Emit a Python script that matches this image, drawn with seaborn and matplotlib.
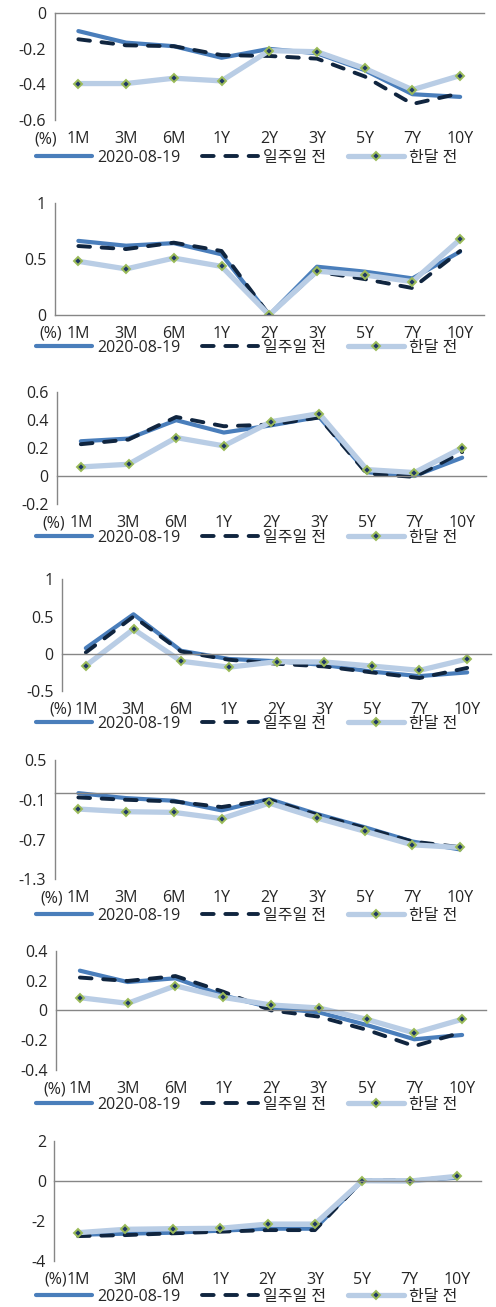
import numpy as np
import pandas as pd
import matplotlib
matplotlib.use("Agg")
import matplotlib.pyplot as plt
import seaborn as sns

sns.set_style("white")
plt.rcParams['font.family'] = ['Open Sans', 'Noto Sans CJK KR', 'DejaVu Sans']
plt.rcParams['axes.unicode_minus'] = False

categories = ["1M", "3M", "6M", "1Y", "2Y", "3Y", "5Y", "7Y", "10Y"]
series_names = ["2020-08-19", "일주일 전", "한달 전"]

p1_now = [-0.10, -0.165, -0.185, -0.25, -0.20, -0.225, -0.32, -0.455, -0.47]
p1_week = [-0.146, -0.18, -0.185, -0.235, -0.24, -0.255, -0.355, -0.51, -0.45]
p1_month = [-0.395, -0.395, -0.365, -0.38, -0.21, -0.216, -0.31, -0.43, -0.35]

p2_now = [0.66, 0.617, 0.64, 0.54, 0.0, 0.43, 0.386, 0.326, 0.564]
p2_week = [0.614, 0.587, 0.644, 0.57, 0.0, 0.386, 0.32, 0.24, 0.57]
p2_month = [0.478, 0.41, 0.507, 0.433, 0.0, 0.39, 0.356, 0.297, 0.674]

p3_now = [0.247, 0.266, 0.397, 0.309, 0.361, 0.42, 0.026, 0.0, 0.13]
p3_week = [0.226, 0.259, 0.42, 0.354, 0.366, 0.416, 0.017, -0.007, 0.17]
p3_month = [0.064, 0.083, 0.273, 0.214, 0.387, 0.444, 0.045, 0.024, 0.20]

p4_now = [0.076, 0.53, 0.04, -0.07, -0.10, -0.15, -0.24, -0.30, -0.25]
p4_week = [0.018, 0.50, 0.03, -0.08, -0.134, -0.17, -0.25, -0.326, -0.19]
p4_month = [-0.16, 0.33, -0.10, -0.18, -0.107, -0.11, -0.165, -0.223, -0.07]

p5_now = [0.0, -0.075, -0.115, -0.26, -0.09, -0.315, -0.515, -0.73, -0.85]
p5_week = [-0.065, -0.10, -0.125, -0.21, -0.10, -0.325, -0.525, -0.73, -0.815]
p5_month = [-0.24, -0.28, -0.29, -0.385, -0.15, -0.375, -0.575, -0.78, -0.82]

p6_now = [0.266, 0.19, 0.215, 0.10, 0.018, -0.013, -0.098, -0.194, -0.165]
p6_week = [0.22, 0.197, 0.23, 0.125, 0.0, -0.042, -0.13, -0.24, -0.147]
p6_month = [0.085, 0.047, 0.165, 0.087, 0.036, 0.016, -0.06, -0.152, -0.06]

p7_now = [-2.70, -2.65, -2.60, -2.50, -2.40, -2.40, 0.0, 0.0, 0.15]
p7_week = [-2.77, -2.72, -2.63, -2.55, -2.47, -2.47, 0.0, 0.0, 0.20]
p7_month = [-2.60, -2.43, -2.40, -2.38, -2.17, -2.17, 0.0, -0.02, 0.22]

y_ticks = [
    [-0.6, -0.4, -0.2, 0],
    [0, 0.5, 1],
    [-0.2, 0, 0.2, 0.4, 0.6],
    [-0.5, 0, 0.5, 1],
    [-1.3, -0.7, -0.1, 0.5],
    [-0.4, -0.2, 0, 0.2, 0.4],
    [-4, -2, 0, 2],
]
panels = [
    (p1_now, p1_week, p1_month),
    (p2_now, p2_week, p2_month),
    (p3_now, p3_week, p3_month),
    (p4_now, p4_week, p4_month),
    (p5_now, p5_week, p5_month),
    (p6_now, p6_week, p6_month),
    (p7_now, p7_week, p7_month),
]

# layout in pixels: left, right, top, bottom, legend center y, "(%)" right edge
layout = [
    (54.5, 484, 13.3, 120.0, 158, 57),
    (54.5, 484, 202.7, 315.0, 348, 62),
    (57, 486, 391.7, 504.0, 538, 65),
    (62, 491, 579.3, 691.0, 724, 72),
    (54.5, 484, 760.0, 879.3, 916, 63),
    (56, 486, 950.7, 1070.0, 1105, 66),
    (54.3, 480.7, 1140.7, 1260.7, 1297, 67),
]

W, H = 496, 1307
DPI = 100
fig = plt.figure(figsize=(W / DPI, H / DPI), dpi=DPI)

C_NOW = "#4a7ebb"
C_WEEK = "#10253f"
C_MONTH = "#b9cde5"
AX_COLOR = "#868686"
TXT = "#262626"
FS = 11.5
FS_PX = FS * DPI / 72
LABEL_GAP = 11

def fmt(v):
    return f"{v:g}"

for (now, week, month), yt, (l, r, t, b, ly, pr) in zip(panels, y_ticks, layout):
    ax = fig.add_axes([l / W, 1 - b / H, (r - l) / W, (b - t) / H])
    df = pd.DataFrame({"x": categories, "now": now, "week": week, "month": month})
    sns.lineplot(data=df, x="x", y="now", ax=ax, color=C_NOW, lw=3.0,
                 label=series_names[0], sort=False, solid_capstyle="round")
    sns.lineplot(data=df, x="x", y="week", ax=ax, color=C_WEEK, lw=2.8,
                 linestyle=(0, (3.0, 3.0)), dash_capstyle="round",
                 label=series_names[1], sort=False)
    sns.lineplot(data=df, x="x", y="month", ax=ax, color=C_MONTH, lw=3.8,
                 marker="D", markersize=4.2, markerfacecolor="#1f3864",
                 markeredgecolor="#9bbb59", markeredgewidth=1.4,
                 label=series_names[2], sort=False, solid_capstyle="round")
    ymin, ymax = yt[0], yt[-1]
    ax.set_xlim(-0.5, len(categories) - 0.5)
    ax.set_ylim(ymin, ymax)
    ax.set_xlabel("")
    ax.set_ylabel("")
    for s in ["top", "right"]:
        ax.spines[s].set_visible(False)
    ax.spines["left"].set_color(AX_COLOR)
    ax.spines["left"].set_linewidth(1.0)
    ax.spines["bottom"].set_color(AX_COLOR)
    ax.spines["bottom"].set_linewidth(1.0)
    ax.spines["bottom"].set_position(("data", 0))
    ax.set_yticks(yt)
    ax.set_yticklabels([fmt(v) for v in yt])
    ax.tick_params(axis="y", direction="out", length=4, width=1, color=AX_COLOR,
                   labelsize=FS, labelcolor=TXT, pad=2)
    ax.set_xticks(range(len(categories)))
    ax.set_xticklabels(categories)
    ax.set_xticks(np.arange(-0.5, len(categories), 1.0), minor=True)
    zero_px = t + (ymax - 0) / (ymax - ymin) * (b - t)
    pad_px = (b - zero_px) + LABEL_GAP
    ax.tick_params(axis="x", which="major", length=0, labelsize=FS,
                   labelcolor=TXT, pad=pad_px * 72 / DPI)
    ax.tick_params(axis="x", which="minor", direction="out", length=4, width=1,
                   color=AX_COLOR)
    ax.grid(False)
    ax.set_facecolor("none")
    fig.text(pr / W, 1 - (b + LABEL_GAP) / H, "(%)", ha="right", va="top",
             fontsize=FS, color=TXT)
    ax.legend(loc="center left", bbox_to_anchor=(36 / W, 1 - ly / H),
              bbox_transform=fig.transFigure, ncol=3, frameon=False,
              fontsize=FS, handlelength=56 / FS_PX, handletextpad=5 / FS_PX,
              columnspacing=22 / FS_PX, borderpad=0, borderaxespad=0,
              labelcolor=TXT)

fig.savefig("out.png", dpi=DPI)
